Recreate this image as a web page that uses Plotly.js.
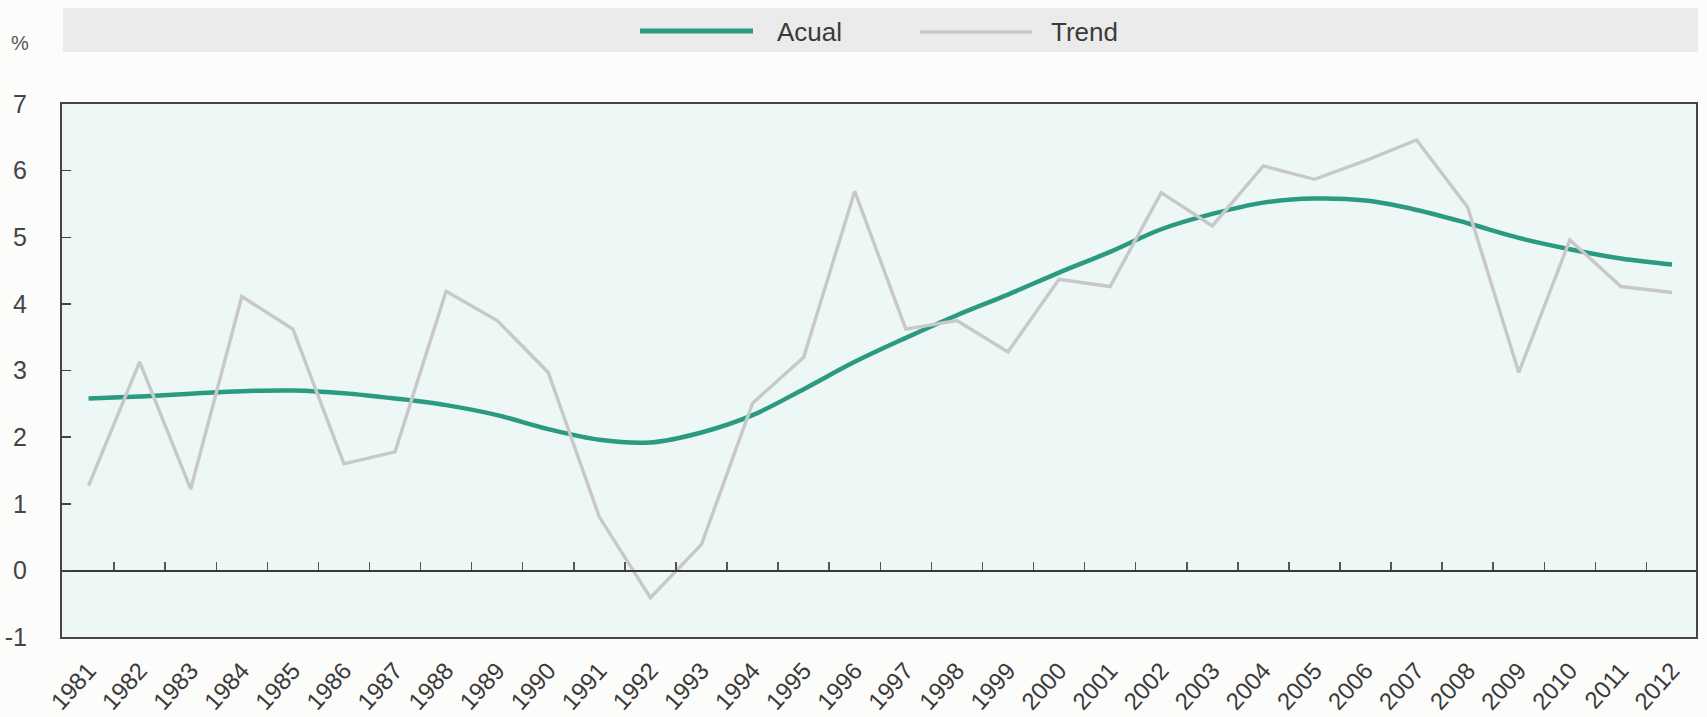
<!DOCTYPE html>
<html>
<head>
<meta charset="utf-8">
<script src="https://cdn.plot.ly/plotly-3.0.1.min.js"></script>
<style>
  html, body { margin: 0; padding: 0; background: #fcfcfb; }
  #chart { width: 1707px; height: 717px; }
</style>
</head>
<body>
<div id="chart"></div>
<script>
// ---- data ----
const years = [1981, 1982, 1983, 1984, 1985, 1986, 1987, 1988, 1989, 1990,
               1991, 1992, 1993, 1994, 1995, 1996, 1997, 1998, 1999, 2000,
               2001, 2002, 2003, 2004, 2005, 2006, 2007, 2008, 2009, 2010,
               2011, 2012];
const yearLabels = years.map(String);

// smooth teal series (labelled "Acual" in the legend)
const acualValues = [2.58, 2.61, 2.65, 2.69, 2.70, 2.66, 2.58, 2.48, 2.33, 2.12,
                     1.96, 1.92, 2.07, 2.33, 2.72, 3.13, 3.49, 3.83, 4.14, 4.47,
                     4.78, 5.12, 5.35, 5.52, 5.58, 5.55, 5.41, 5.21, 4.99, 4.82,
                     4.68, 4.59];

// jagged grey series (labelled "Trend" in the legend)
const trendValues = [1.27, 3.13, 1.22, 4.11, 3.62, 1.60, 1.78, 4.19, 3.75, 2.97,
                     0.80, -0.41, 0.39, 2.51, 3.20, 5.69, 3.62, 3.75, 3.28, 4.37,
                     4.26, 5.67, 5.17, 6.07, 5.87, 6.15, 6.46, 5.45, 2.97, 4.96,
                     4.26, 4.17];

const seriesNames = ["Acual", "Trend"];
const yTickValues = [-1, 0, 1, 2, 3, 4, 5, 6, 7];
const unitLabel = "%";

// half-year tick marks drawn on the zero line
const midTicks = years.slice(0, -1).map(y => y + 0.5);

// ---- layout geometry (pixels) ----
const W = 1707, H = 717;
const L = 62, R = 1696, T = 104, B = 637;
const px = p => (p - L) / (R - L);
const py = p => (B - p) / (B - T);

const tealColor = '#2a9a80';
const greyColor = '#c8c8c8';
const xRange = [1980.48, 2012.47];

const traces = [
  {
    x: years, y: trendValues, name: seriesNames[1], type: 'scatter', mode: 'lines',
    line: { color: greyColor, width: 3.4 }, xaxis: 'x2', yaxis: 'y',
    showlegend: false, hoverinfo: 'x+y+name'
  },
  {
    x: years, y: acualValues, name: seriesNames[0], type: 'scatter', mode: 'lines',
    line: { color: tealColor, width: 4.5, shape: 'spline', smoothing: 1 },
    xaxis: 'x', yaxis: 'y', showlegend: false, hoverinfo: 'x+y+name'
  }
];

const fontFamily = '"Liberation Sans", Arial, sans-serif';

const layout = {
  width: W, height: H,
  margin: { l: L, r: W - R, t: T, b: H - B, pad: 0 },
  paper_bgcolor: '#fcfcfb',
  plot_bgcolor: '#edf7f5',
  showlegend: false,
  font: { family: fontFamily, color: '#3a3a3a' },
  xaxis: {
    range: xRange,
    tickmode: 'array', tickvals: years, ticktext: yearLabels,
    tickangle: -48, ticks: '',
    tickfont: { size: 24, color: '#3a3a3a', family: fontFamily },
    ticklabelstandoff: 8,
    showline: true, mirror: true, linecolor: '#454545', linewidth: 2,
    showgrid: false, zeroline: false
  },
  xaxis2: {
    range: xRange, overlaying: 'x', anchor: 'free', position: 0.125,
    tickmode: 'array', tickvals: midTicks,
    ticks: 'inside', ticklen: 8, tickwidth: 1.5, tickcolor: '#555',
    showticklabels: false,
    showline: true, linecolor: '#383838', linewidth: 1.6,
    showgrid: false, zeroline: false
  },
  yaxis: {
    range: [-1, 7], tickmode: 'array', tickvals: yTickValues,
    ticktext: yTickValues.map(v => v < 0 ? '-' + Math.abs(v) : String(v)),
    ticks: 'inside', ticklen: 9, tickwidth: 1.5, tickcolor: '#454545',
    tickfont: { size: 25, color: '#444', family: fontFamily },
    ticklabelstandoff: 28,
    showline: true, mirror: true, linecolor: '#454545', linewidth: 2,
    showgrid: false, zeroline: false
  },
  shapes: [
    // legend band
    { type: 'rect', xref: 'paper', yref: 'paper',
      x0: px(63), x1: px(1698), y0: py(52), y1: py(8),
      fillcolor: '#ebebeb', line: { width: 0 }, layer: 'below' },
    // legend line samples
    { type: 'line', xref: 'paper', yref: 'paper',
      x0: px(640), x1: px(753), y0: py(31), y1: py(31),
      line: { color: tealColor, width: 5 } },
    { type: 'line', xref: 'paper', yref: 'paper',
      x0: px(920), x1: px(1032), y0: py(32), y1: py(32),
      line: { color: greyColor, width: 3.5 } }
  ],
  annotations: [
    { text: seriesNames[0], xref: 'paper', yref: 'paper', x: px(775), y: py(32),
      xanchor: 'left', yanchor: 'middle', showarrow: false,
      font: { size: 26, color: '#3a3a3a', family: fontFamily } },
    { text: seriesNames[1], xref: 'paper', yref: 'paper', x: px(1049), y: py(32),
      xanchor: 'left', yanchor: 'middle', showarrow: false,
      font: { size: 26, color: '#3a3a3a', family: fontFamily } },
    { text: unitLabel, xref: 'paper', yref: 'paper', x: px(20), y: py(43),
      xanchor: 'center', yanchor: 'middle', showarrow: false,
      font: { size: 20, color: '#555', family: fontFamily } }
  ]
};

Plotly.newPlot('chart', traces, layout, { displayModeBar: false, staticPlot: true });
</script>
</body>
</html>
